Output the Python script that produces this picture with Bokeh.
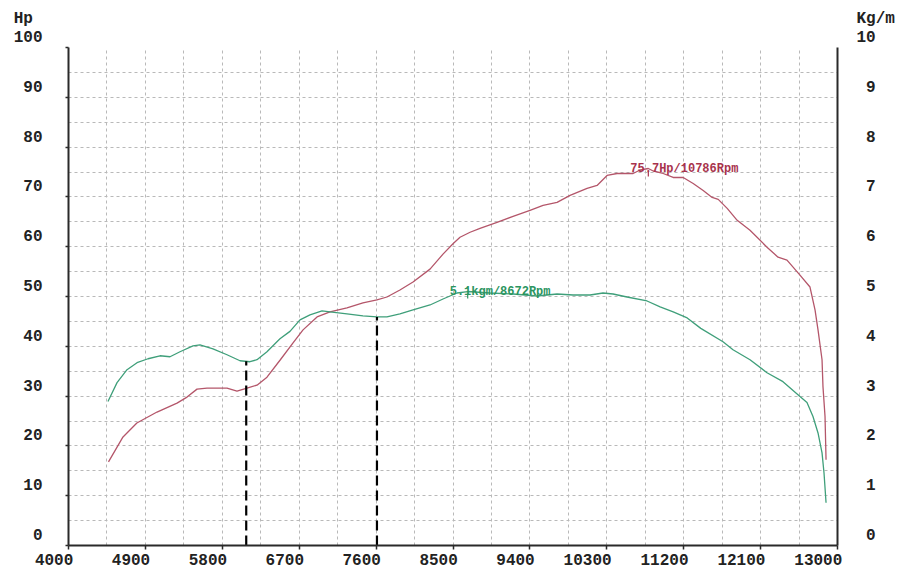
from bokeh.plotting import figure
from bokeh.models import Range1d, LinearAxis, FixedTicker
from bokeh.core.properties import value
from bokeh.embed import file_html
from bokeh.resources import INLINE

# ---- data ----
hp_rpm = [4468, 4638, 4800, 5036, 5270, 5387, 5504, 5621, 5855, 5972, 6089, 6206,
          6323, 6475, 6628, 6745, 6909, 7060, 7259, 7446, 7610, 7727, 7879, 8032,
          8231, 8383, 8500, 8582, 8700, 8816, 9015, 9203, 9401, 9554, 9718, 9870,
          10069, 10186, 10303, 10420, 10608, 10690, 10786, 10843, 10960, 11077,
          11194, 11311, 11428, 11533, 11604, 11709, 11826, 11976, 12175, 12304,
          12409, 12561, 12678, 12737, 12772, 12819, 12830, 12854, 12866]
hp_val = [16.8, 21.8, 24.6, 26.8, 28.6, 29.8, 31.4, 31.6, 31.6, 31.0, 31.6, 32.2,
          33.8, 37.2, 40.7, 43.3, 45.9, 46.9, 47.7, 48.7, 49.3, 49.9, 51.3, 52.9,
          55.5, 58.5, 60.6, 61.9, 62.9, 63.7, 64.9, 66.1, 67.3, 68.3, 68.9, 70.3,
          71.7, 72.3, 74.3, 74.7, 74.7, 75.4, 75.7, 75.2, 74.7, 73.9,
          73.9, 72.7, 71.3, 69.9, 69.5, 67.7, 65.3, 63.3, 59.9, 57.9,
          57.3, 54.3, 51.9, 47.3, 43.3, 37.3, 31.9, 25.9, 17.2]

tq_rpm = [4462, 4568, 4685, 4802, 4931, 5071, 5188, 5305, 5457, 5539, 5691, 5855,
          6007, 6124, 6206, 6323, 6475, 6592, 6709, 6826, 6967, 7060, 7259, 7446,
          7610, 7727, 7879, 8032, 8231, 8383, 8547, 8672, 8934, 9203, 9484, 9718,
          9905, 10104, 10256, 10373, 10537, 10771, 10924, 11077, 11241, 11400,
          11660, 11777, 11976, 12175, 12362, 12561, 12643, 12713, 12772, 12819,
          12842, 12866]
tq_val = [2.89, 3.27, 3.53, 3.67, 3.75, 3.81, 3.79, 3.89, 4.01, 4.03, 3.95, 3.83,
          3.71, 3.69, 3.73, 3.89, 4.15, 4.30, 4.53, 4.63, 4.71, 4.69, 4.65, 4.61,
          4.59, 4.59, 4.65, 4.73, 4.83, 4.95, 5.07, 5.10, 5.07, 5.05, 5.01, 5.05,
          5.03, 5.03, 5.07, 5.05, 4.99, 4.91, 4.79, 4.69, 4.57, 4.36,
          4.09, 3.93, 3.73, 3.47, 3.29, 2.99, 2.87, 2.59, 2.26, 1.86,
          1.46, 0.86]

x_ticks = [4000, 4900, 5800, 6700, 7600, 8500, 9400, 10300, 11200, 12100, 13000]
hp_ticks = [0, 10, 20, 30, 40, 50, 60, 70, 80, 90, 100]
kgm_ticks = [0, 1, 2, 3, 4, 5, 6, 7, 8, 9, 10]
hp_unit = "Hp"
kgm_unit = "Kg/m"

dash_rpm = [6080, 7610]
dash_kgm = [3.70, 4.59]

peak_hp_rpm = [10786]
peak_hp = [75.7]
peak_hp_text = ["75.7Hp/10786Rpm"]
peak_tq_rpm = [8672]
peak_tq = [5.1]
peak_tq_text = ["5.1kgm/8672Rpm"]

# ---- styling ----
FONT = "Liberation Mono"
RED_LINE = "#b4566a"
RED_TEXT = "#a8334c"
GREEN_LINE = "#3f9f7a"
GREEN_TEXT = "#2b955f"
AXIS = "#2a2a2a"
GRID = "#b9b9b9"
LABEL = "#222222"
NBSP = "\u00a0"

X0, X1, Y0, Y1 = 4000, 13000, 0, 100

p = figure(width=900, height=572,
           x_range=Range1d(X0, X1), y_range=Range1d(Y0, Y1),
           output_backend="svg", toolbar_location=None,
           min_border_left=68, min_border_right=63,
           min_border_top=47, min_border_bottom=26)
p.extra_y_ranges = {"kgm": Range1d(0, 10)}
p.outline_line_color = None
p.background_fill_color = "white"
p.border_fill_color = "white"

# grid
p.xgrid.ticker = FixedTicker(ticks=list(range(X0, X1 + 1, 450)))
p.ygrid.ticker = FixedTicker(ticks=list(range(Y0, Y1 + 1, 5)))
for g in (p.xgrid, p.ygrid):
    g.grid_line_color = GRID
    g.grid_line_dash = "3 3"
    g.grid_line_width = 1

def style_axis(ax, tick_out, standoff):
    ax.axis_line_color = AXIS
    ax.axis_line_width = 2
    ax.major_tick_line_color = AXIS if tick_out else None
    ax.major_tick_line_width = 1.5
    ax.major_tick_in = 0
    ax.major_tick_out = tick_out
    ax.minor_tick_line_color = None
    ax.major_label_standoff = standoff
    ax.major_label_text_font = FONT
    ax.major_label_text_font_size = "16px"
    ax.major_label_text_font_style = "bold"
    ax.major_label_text_color = LABEL

# value labels are lifted half a line above their grid line (blank line below),
# the unit caption sits on top of the highest value label
def lifted(ticks, unit, pad_left=False):
    out = {}
    top = max(ticks)
    for t in ticks:
        s = str(t)
        if pad_left and len(s) == 1:
            s = NBSP + s
        out[t] = (unit + "\n" + s + "\n\n") if t == top else (s + "\n")
    return out

# bottom axis: labels right-aligned just past their tick (trailing padding)
p.xaxis.ticker = FixedTicker(ticks=x_ticks)
style_axis(p.xaxis[0], 4, 2)
p.xaxis.major_label_overrides = {t: str(t) + " " * (len(str(t)) - 1) for t in x_ticks}

# left axis (Hp)
p.yaxis.ticker = FixedTicker(ticks=hp_ticks)
style_axis(p.yaxis[0], 3, 23)
p.yaxis.major_label_text_line_height = 1.05
p.yaxis.major_label_overrides = lifted(hp_ticks, hp_unit + " ")

# right axis (Kg/m)
ax_r = LinearAxis(y_range_name="kgm", ticker=FixedTicker(ticks=kgm_ticks))
style_axis(ax_r, 0, 19)
ax_r.major_label_text_line_height = 1.05
ax_r.major_label_overrides = lifted(kgm_ticks, kgm_unit, pad_left=True)
p.add_layout(ax_r, "right")

# curves
p.line(hp_rpm, hp_val, line_color=RED_LINE, line_width=1.3)
p.line(tq_rpm, tq_val, line_color=GREEN_LINE, line_width=1.3, y_range_name="kgm")

# dashed markers
p.segment(x0=dash_rpm, y0=[0] * len(dash_rpm), x1=dash_rpm, y1=dash_kgm,
          y_range_name="kgm", line_color="black", line_width=2.2, line_dash="10 5")

# peak ticks
p.segment(x0=peak_hp_rpm, y0=[v - 0.6 for v in peak_hp], x1=peak_hp_rpm,
          y1=[v - 1.6 for v in peak_hp], line_color=RED_TEXT, line_width=1.2)
p.segment(x0=peak_tq_rpm, y0=[v - 0.04 for v in peak_tq], x1=peak_tq_rpm,
          y1=[v - 0.14 for v in peak_tq], line_color=GREEN_TEXT, line_width=1.2,
          y_range_name="kgm")

# peak annotations
p.text(x=peak_hp_rpm, y=peak_hp, text=peak_hp_text, x_offset=-18, y_offset=0,
       text_font=value(FONT), text_font_size="12px", text_font_style="bold",
       text_color=RED_TEXT, text_align="left", text_baseline="alphabetic")
p.text(x=peak_tq_rpm, y=peak_tq, text=peak_tq_text, x_offset=-18, y_offset=0,
       text_font=value(FONT), text_font_size="12px", text_font_style="bold",
       text_color=GREEN_TEXT, text_align="left", text_baseline="alphabetic",
       y_range_name="kgm")

open("out.html", "w").write(file_html(p, INLINE))
